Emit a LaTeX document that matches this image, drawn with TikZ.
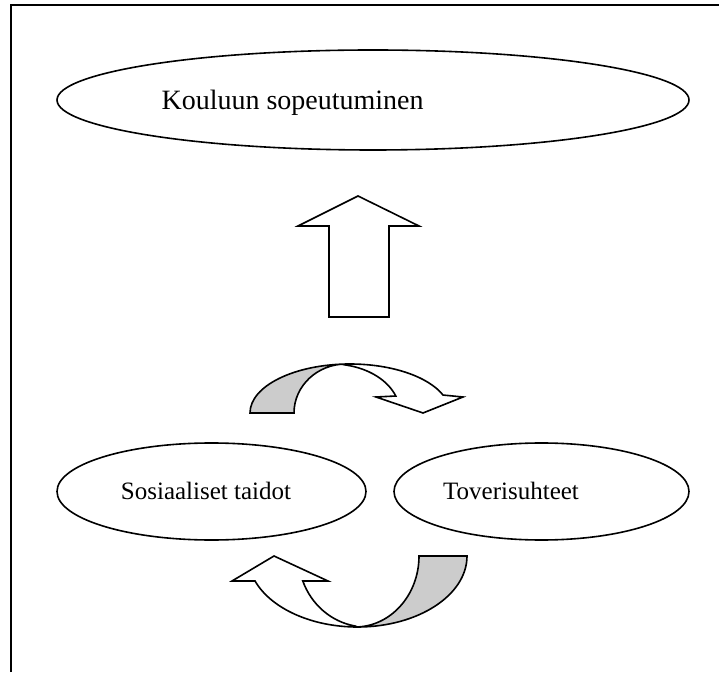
\documentclass[tikz,border=0pt]{standalone}
\usepackage{fontspec}
\setmainfont{Liberation Serif}
\begin{document}
\begin{tikzpicture}[x=1pt,y=1pt,
  outline/.style={draw,line width=1.6pt},
  blockarrow/.style={draw,line width=1.6pt,line join=miter},
  fold/.style={blockarrow,fill=black!20},
  face/.style={blockarrow,fill=white}]
\useasboundingbox (0,0) rectangle (719,672);
% frame (top and left edges)
\draw[line width=2pt] (10.5,0) -- (10.5,667) -- (719,667);

% ellipses
\draw[outline] (373,572) ellipse [x radius=316pt, y radius=50pt];
\node[anchor=base west,font=\fontsize{28}{32}\selectfont] (top) at (158,562) {Kouluun sopeutuminen};

\draw[outline] (211.5,180.5) ellipse [x radius=154.5pt, y radius=48.5pt];
\node[anchor=base,font=\fontsize{25}{28}\selectfont] (social) at (206,173) {Sosiaaliset taidot};

\draw[outline] (541.5,180.5) ellipse [x radius=147.5pt, y radius=48.5pt];
\node[anchor=base,font=\fontsize{25}{28}\selectfont] (peers) at (511,173) {Toverisuhteet};

% straight up arrow
\draw[face] (329,355) -- (329,446) -- (298,446) -- (358,476) -- (419,446) -- (389,446) -- (389,355) -- cycle;

% upper curved arrow
\draw[fold] (250,259) arc[start angle=180,end angle=90,x radius=100pt,y radius=49pt]
  -- (346,308) arc[start angle=90,end angle=180,x radius=52pt,y radius=49pt] -- cycle;
\draw[face] (350,308) arc[start angle=90,end angle=21.5,x radius=100pt,y radius=49pt]
  -- (463,275) -- (423,259) -- (376,275) -- (395.8,276)
  arc[start angle=20.3,end angle=78.1,x radius=68pt,y radius=49pt] -- cycle;

% lower curved arrow
\draw[fold] (419,116) -- (467,116) arc[start angle=0,end angle=-90,x radius=109.5pt,y radius=71pt]
  -- (355,45) arc[start angle=-90,end angle=0,x radius=64pt,y radius=71pt] -- cycle;
\draw[face] (357.5,45) arc[start angle=270,end angle=200.6,x radius=109.5pt,y radius=71pt]
  -- (232,91) -- (274,116) -- (328,91) -- (302.8,91)
  arc[start angle=200.6,end angle=260.3,x radius=68pt,y radius=71pt] -- cycle;
\end{tikzpicture}
\end{document}
